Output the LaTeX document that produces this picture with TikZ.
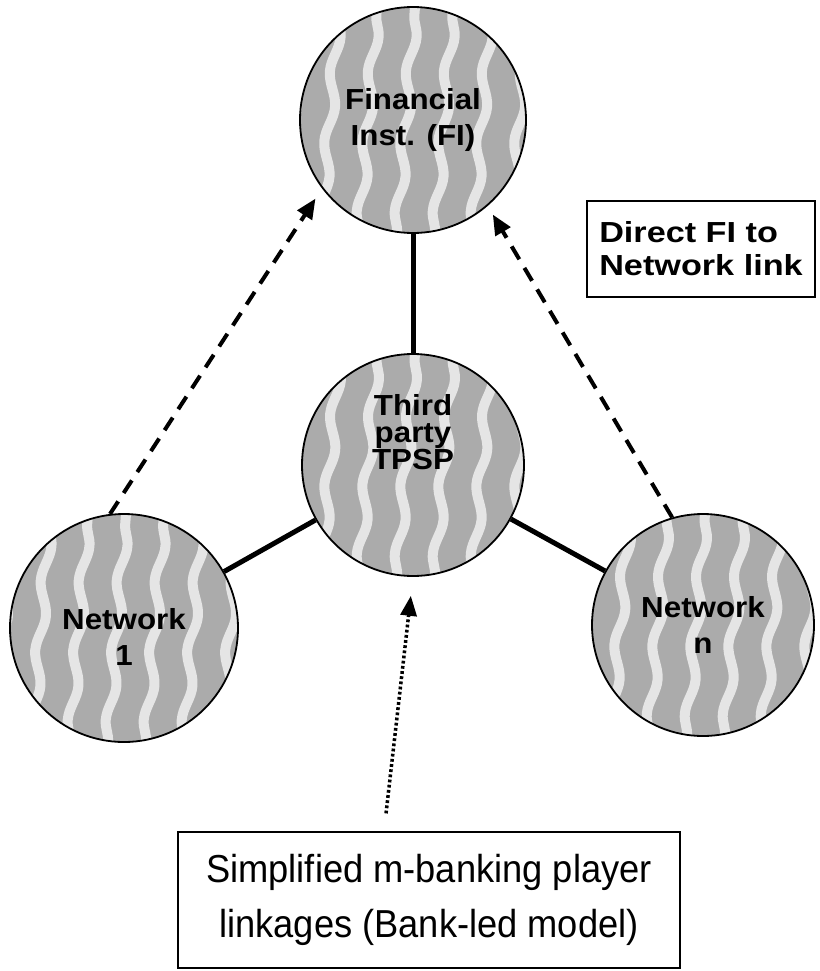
\documentclass[tikz,border=0pt]{standalone}
\usepackage{fontspec}
\setmainfont{Liberation Sans}
\newfontfamily\playerfont[FakeStretch=1.08]{Liberation Sans}
\newfontfamily\linkfont[FakeStretch=1.18]{Liberation Sans}
\newfontfamily\captionfont[FakeStretch=0.93]{Liberation Sans}
\usetikzlibrary{arrows.meta,positioning,decorations.pathmorphing}

\tikzset{
  player/.style={circle, draw, line width=1.8pt, fill=black!33,
    minimum size=224pt, inner sep=0pt, align=center,
    font=\playerfont\bfseries\fontsize{29}{36}\selectfont,
    path picture={
      \foreach \dx [evaluate=\dx as \ex using \dx+18] in {-130,-92,...,130}
        \draw[white!90!black, line width=10pt, decorate,
              decoration={snake, amplitude=4pt, segment length=70pt}]
          ([xshift=\dx pt]path picture bounding box.south)
          -- ([xshift=\ex pt]path picture bounding box.north);
    }},
  solidlink/.style={line width=5pt},
  directlink/.style={line width=4pt, dash pattern=on 15pt off 10pt,
    -{Triangle[length=20pt,width=17pt]}},
  modellink/.style={line width=3.5pt, dash pattern=on 2.8pt off 2.4pt,
    -{Triangle[length=20pt,width=16pt]}},
}

\begin{document}
\begin{tikzpicture}[x=1pt,y=-1pt]
  \useasboundingbox (0,0) rectangle (819,971);

  % players
  \node[player, minimum size=226pt] (fi) at (413,120)
    {\raisebox{-4pt}{Financial}\\\raisebox{-4pt}{Inst. (FI)}};
  \node[player, minimum size=222pt,
        label={[font=\playerfont\bfseries\fontsize{29}{27}\selectfont,
                align=center, yshift=33pt]center:{Third\\party\\TPSP}}]
        (tpsp) at (413,465) {};
  \node[player, minimum size=228pt,
        label={[font=\playerfont\bfseries\fontsize{29}{36}\selectfont,
                align=center, yshift=-9pt]center:{Network\\1}}]
        (net1) at (124,628) {};
  \node[player, minimum size=222pt] (netn) at (703,625) {Network\\n};

  % boxes
  \node[draw, line width=2pt, minimum width=228pt, minimum height=96pt,
        align=left, font=\linkfont\bfseries\fontsize{29}{33}\selectfont]
        (direct) at (701,249) {Direct FI to\\Network link};
  \node[draw, line width=1.5pt, minimum width=502pt, minimum height=136pt,
        align=center, font=\captionfont\fontsize{39}{55}\selectfont]
        (caption) at (429,900) {Simplified m-banking player\\linkages (Bank-led model)};

  % links
  \draw[solidlink] (fi) -- (tpsp);
  \draw[solidlink] (tpsp) -- (net1);
  \draw[solidlink] (tpsp) -- (netn);
  \draw[directlink, shorten >=12pt] (net1.97) -- (fi.217);
  \draw[directlink, shorten >=10pt] (netn.106) -- (fi.311);
  \draw[modellink, shorten <=18pt, shorten >=19pt]
    ([xshift=-45pt]caption.north) -- (tpsp.south);
\end{tikzpicture}
\end{document}
